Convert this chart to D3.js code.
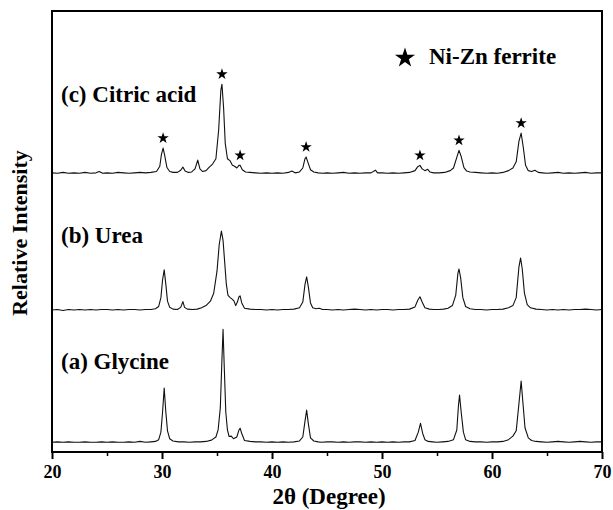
<!DOCTYPE html>
<html>
<head>
<meta charset="utf-8">
<script src="https://cdn.jsdelivr.net/npm/d3@7/dist/d3.min.js"></script>
<style>
  body { margin: 0; background: #fff; }
  svg text { font-family: "Liberation Serif", "Times New Roman", serif; font-weight: bold; fill: #000; }
</style>
</head>
<body>
<svg id="chart" width="613" height="510"></svg>
<script>
// sample names, bottom to top
const samples = ['(a) Glycine', '(b) Urea', '(c) Citric acid'];
// vertical offset of each pattern (arbitrary units)
const offsets = [20, 320, 630];

// [2theta, intensity above baseline]
const glycine = [
  [20,2],[20.5,3],[21,2],[21.5,3],[22,2],[22.5,2],[23,3],[23.5,2],[24,2],[24.5,3],[25,2],[25.5,3],
  [26,2],[26.5,2],[27,3],[27.5,2],[28,4],[28.5,2],[29,3],[29.4,4],[29.7,8],[29.9,25],[30.05,70],
  [30.2,125],[30.35,70],[30.5,28],[30.7,10],[31,5],[31.5,3],[32,3],[32.5,2],[33,3],[33.5,3],[34,4],
  [34.5,7],[34.9,14],[35.1,30],[35.3,80],[35.45,190],[35.55,258],[35.65,180],[35.8,70],[35.95,30],
  [36.1,15],[36.3,16],[36.5,10],[36.8,14],[37.0,30],[37.1,34],[37.25,22],[37.5,6],[38,4],[38.5,3],
  [39,3],[39.5,2],[40,3],[40.5,2],[41,3],[41.5,2],[42,3],[42.5,5],[42.8,14],[43.0,50],[43.15,75],
  [43.3,45],[43.5,12],[43.8,5],[44.2,3],[44.5,2],[45,3],[45.5,3],[46,2],[46.5,3],[47,2],[47.5,3],
  [48,3],[48.5,2],[49,3],[49.5,2],[50,3],[50.5,2],[51,3],[51.5,2],[52,3],[52.5,3],[53,6],[53.3,25],
  [53.5,45],[53.7,22],[53.9,8],[54.2,4],[54.6,3],[55,2],[55.5,3],[56,4],[56.5,8],[56.8,30],[56.95,85],
  [57.05,109],[57.2,70],[57.4,25],[57.6,8],[58,4],[58.5,3],[59,3],[59.5,2],[60,3],[60.5,3],[61,4],
  [61.5,8],[61.9,16],[62.2,28],[62.45,90],[62.65,141],[62.8,95],[63.0,35],[63.3,12],[63.6,6],[64,4],
  [64.5,3],[65,2],[65.5,3],[66,4],[66.5,3],[67,2],[67.5,3],[68,4],[68.5,3],[69,2],[69.5,3],[70,3]
];

const urea = [
  [20,2],[20.5,3],[21,1],[21.5,3],[22,2],[22.5,3],[23,2],[23.5,3],[24,2],[24.5,3],[25,3],[25.5,2],
  [26,3],[26.5,2],[27,3],[27.5,3],[28,2],[28.5,3],[29,3],[29.4,5],[29.7,10],[29.9,30],[30.05,70],
  [30.2,93],[30.35,60],[30.5,22],[30.7,8],[31,4],[31.4,3],[31.7,8],[31.9,21],[32.05,8],[32.3,4],
  [32.8,3],[33.2,4],[33.6,7],[34,12],[34.4,22],[34.7,40],[35.0,90],[35.2,150],[35.4,181],[35.55,160],
  [35.7,110],[35.85,60],[36.0,35],[36.2,30],[36.4,26],[36.55,22],[36.7,12],[36.85,20],[37.0,32],
  [37.1,34],[37.25,18],[37.5,6],[38,4],[38.5,3],[39,3],[39.5,2],[40,3],[40.5,2],[41,3],[41.5,3],
  [42,4],[42.5,7],[42.8,20],[43.0,60],[43.15,77],[43.3,55],[43.5,18],[43.7,7],[44,5],[44.3,6],
  [44.6,3],[45,3],[45.5,2],[46,3],[46.5,2],[47,3],[47.5,4],[48,3],[48.5,2],[49,3],[49.5,2],[50,3],
  [50.5,3],[51,2],[51.5,3],[52,3],[52.5,4],[53,9],[53.25,24],[53.45,32],[53.65,20],[53.9,7],[54.3,4],
  [54.7,3],[55.2,3],[55.6,4],[56,6],[56.4,12],[56.7,35],[56.9,85],[57.0,95],[57.15,75],[57.35,30],
  [57.6,10],[58,5],[58.5,3],[59,3],[59.5,2],[60,3],[60.5,3],[61,4],[61.5,7],[61.9,12],[62.2,30],
  [62.45,100],[62.6,120],[62.75,95],[62.95,40],[63.2,14],[63.5,7],[64,4],[64.5,3],[65,2],[65.5,3],
  [66,2],[66.5,3],[67,2],[67.5,3],[68,3],[68.5,4],[69,3],[69.5,2],[70,3]
];

const citric = [
  [20,3],[20.5,2],[21,4],[21.5,2],[22,3],[22.5,2],[23,4],[23.5,2],[24,3],[24.3,6],[24.6,2],[25,3],
  [25.5,2],[26,4],[26.5,3],[27,2],[27.5,3],[28,4],[28.5,3],[29,4],[29.5,6],[29.8,18],[29.95,45],
  [30.1,59],[30.25,42],[30.45,15],[30.7,6],[31,4],[31.4,4],[31.7,9],[31.9,16],[32.1,7],[32.4,4],
  [32.7,5],[33.0,12],[33.25,32],[33.45,12],[33.7,6],[34.0,8],[34.3,16],[34.6,23],[34.9,35],[35.15,100],
  [35.35,190],[35.45,204],[35.6,150],[35.75,70],[35.95,35],[36.2,30],[36.4,20],[36.6,18],[36.8,14],
  [37.0,20],[37.1,20],[37.3,10],[37.6,5],[38,4],[38.5,3],[39,2],[39.5,3],[40,2],[40.5,3],[41,2],
  [41.5,4],[41.8,7],[42.1,3],[42.5,5],[42.8,14],[43.0,35],[43.1,39],[43.25,28],[43.5,10],[43.8,5],
  [44.2,3],[44.6,2],[45,3],[45.5,2],[46,3],[46.5,4],[47,2],[47.5,3],[48,2],[48.5,3],[49,3],[49.4,9],
  [49.6,3],[50,3],[50.5,2],[51,3],[51.5,2],[52,3],[52.5,4],[53,8],[53.25,17],[53.45,20],[53.65,12],
  [53.9,8],[54.15,11],[54.35,5],[54.7,3],[55.2,3],[55.7,4],[56.2,8],[56.5,14],[56.8,38],[57.0,54],
  [57.2,40],[57.45,15],[57.7,7],[58,5],[58.5,4],[59,3],[59.5,2],[60,3],[60.5,2],[61,4],[61.5,8],
  [61.9,14],[62.2,28],[62.45,75],[62.65,93],[62.85,60],[63.05,20],[63.3,8],[63.6,6],[63.9,9],[64.2,4],
  [64.6,3],[65,2],[65.5,3],[66,4],[66.5,2],[67,3],[67.5,2],[68,3],[68.5,4],[69,2],[69.5,3],[70,3]
];

// Ni-Zn ferrite reflections marked on the citric acid pattern
const ferritePeaks = [[30.1,59],[35.45,204],[37.1,20],[43.1,39],[53.45,20],[57.0,54],[62.65,93]];

const majorTicks = [20, 30, 40, 50, 60, 70];
const minorTicks = [25, 35, 45, 55, 65];

const svg = d3.select('#chart');
const plot = { left: 52, right: 602, top: 11, bottom: 452 };

const x = d3.scaleLinear().domain([20, 70]).range([plot.left, plot.right]);
const y = d3.scaleLinear().domain([0, 1000]).range([plot.bottom, plot.top]);

const series = [glycine, urea, citric];

const line = d3.line()
  .x((d) => x(d[0]))
  .y((d) => y(d[1]));

series.forEach((s, i) => {
  svg.append('path')
    .datum(s.map((d) => [d[0], d[1] + offsets[i]]))
    .attr('d', line)
    .attr('fill', 'none')
    .attr('stroke', '#111')
    .attr('stroke-width', 1.1)
    .attr('stroke-linejoin', 'round');
});

// frame
svg.append('rect')
  .attr('x', plot.left).attr('y', plot.top)
  .attr('width', plot.right - plot.left).attr('height', plot.bottom - plot.top)
  .attr('fill', 'none')
  .attr('stroke', '#000')
  .attr('stroke-width', 2);

// bottom axis
const xAxis = svg.append('g')
  .attr('transform', `translate(0,${plot.bottom})`)
  .call(d3.axisBottom(x).tickValues(majorTicks).tickSize(7).tickPadding(6).tickFormat(d3.format('d')));
xAxis.select('.domain').remove();
xAxis.selectAll('line').attr('stroke', '#000').attr('stroke-width', 2);
xAxis.selectAll('text')
  .attr('font-family', '"Liberation Serif", serif')
  .attr('font-weight', 'bold')
  .attr('font-size', 18);

const minorAxis = svg.append('g')
  .attr('transform', `translate(0,${plot.bottom})`)
  .call(d3.axisBottom(x).tickValues(minorTicks).tickSize(4).tickFormat(''));
minorAxis.select('.domain').remove();
minorAxis.selectAll('line').attr('stroke', '#000').attr('stroke-width', 1.5);

// axis titles
svg.append('text')
  .attr('x', (plot.left + plot.right) / 2 + 2)
  .attr('y', 504)
  .attr('text-anchor', 'middle')
  .attr('font-size', 23)
  .text('2θ (Degree)');

svg.append('text')
  .attr('transform', 'translate(27,233) rotate(-90)')
  .attr('text-anchor', 'middle')
  .attr('font-size', 22)
  .text('Relative Intensity');

// sample labels
const labelY = [369, 243, 102];
svg.selectAll('.sample-label')
  .data(samples)
  .enter().append('text')
  .attr('class', 'sample-label')
  .attr('x', 61)
  .attr('y', (d, i) => labelY[i])
  .attr('font-size', 23)
  .text((d) => d);

// star markers above the ferrite reflections
const star = d3.symbol().type(d3.symbolStar);
svg.selectAll('.peak-star')
  .data(ferritePeaks)
  .enter().append('path')
  .attr('class', 'peak-star')
  .attr('transform', (d) => `translate(${x(d[0])},${y(d[1] + offsets[2]) - 10})`)
  .attr('d', star.size(40)())
  .attr('fill', '#000');

// legend
svg.append('path')
  .attr('transform', 'translate(405,58)')
  .attr('d', star.size(125)())
  .attr('fill', '#000');
svg.append('text')
  .attr('x', 429)
  .attr('y', 64)
  .attr('font-size', 23)
  .text('Ni-Zn ferrite');
</script>
</body>
</html>
